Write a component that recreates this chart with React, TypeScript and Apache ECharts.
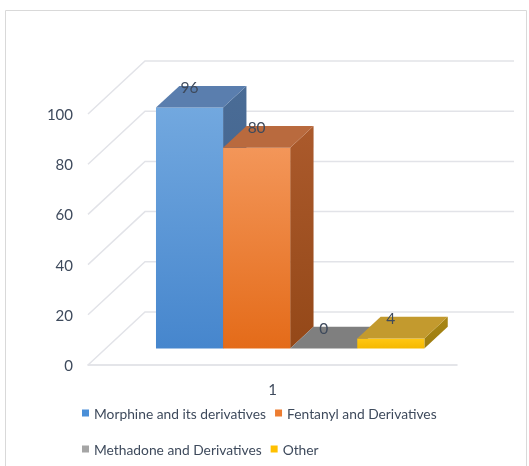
import React, { useEffect, useRef } from "react";
import * as echarts from "echarts";

// Chart data
const categories = ["1"];
const seriesNames = [
  "Morphine and its derivatives",
  "Fentanyl and Derivatives",
  "Methadone and Derivatives",
  "Other",
];
const morphineValues = [96];
const fentanylValues = [80];
const methadoneValues = [0];
const otherValues = [4];
const yTicks = [0, 20, 40, 60, 80, 100];

const FONT = "Lato, 'Liberation Sans', sans-serif";
const TEXT = "#3e4a5c";

// Oblique projection used for the 3-D look: full depth of the floor/walls
const DEPTH_X = 57;
const DEPTH_Y = -53;
// Bars sit between these fractions of the depth
const BAR_FRONT = 0.31;
const BAR_BACK = 0.72;
// Gap between clusters, in bar widths (Excel gap width 150%)
const GAP_WIDTH = 1.5;

type Palette = {
  legend: string;
  front: [string, string];
  top: string;
  side: [string, string];
};

const palettes: Palette[] = [
  { legend: "#4a8fd8", front: ["#72a8df", "#4686cd"], top: "#5a7eae", side: ["#4a6c96", "#3f5f88"] },
  { legend: "#ed7d31", front: ["#f39659", "#e46b19"], top: "#b96a3e", side: ["#ab5a2c", "#944818"] },
  { legend: "#a5a5a5", front: ["#a5a5a5", "#8f8f8f"], top: "#7f7f7f", side: ["#6f6f6f", "#6a6a6a"] },
  { legend: "#ffc000", front: ["#ffc714", "#f5b800"], top: "#c39a2e", side: ["#a88614", "#9c7c10"] },
];

const vGrad = (c: [string, string]) =>
  new echarts.graphic.LinearGradient(0, 0, 0, 1, [
    { offset: 0, color: c[0] },
    { offset: 1, color: c[1] },
  ]);

function makeBarRenderer(idx: number, count: number) {
  return (params: any, api: any) => {
    const cat = api.value(0);
    const value = api.value(1);
    const [cx, y0] = api.coord([cat, 0]);
    const yv = api.coord([cat, value])[1];
    const band = api.size([1, 0])[0];
    const w = band / (count + GAP_WIDTH);
    const left = cx - (count / 2) * w + idx * w;

    const fdx = DEPTH_X * BAR_FRONT;
    const fdy = DEPTH_Y * BAR_FRONT;
    const ddx = DEPTH_X * (BAR_BACK - BAR_FRONT);
    const ddy = DEPTH_Y * (BAR_BACK - BAR_FRONT);

    const x0 = left + fdx;
    const x1 = left + w + fdx;
    const yb = y0 + fdy;
    const yt = yv + fdy;
    const p = palettes[idx];
    const children: any[] = [];

    if (yb - yt > 0.5) {
      children.push({
        type: "polygon",
        shape: {
          points: [
            [x1, yt],
            [x1 + ddx, yt + ddy],
            [x1 + ddx, yb + ddy],
            [x1, yb],
          ],
        },
        style: { fill: vGrad(p.side) },
      });
      children.push({
        type: "rect",
        shape: { x: x0, y: yt, width: w, height: yb - yt },
        style: { fill: vGrad(p.front) },
      });
    }
    children.push({
      type: "polygon",
      shape: {
        points: [
          [x0, yt],
          [x1, yt],
          [x1 + ddx, yt + ddy],
          [x0 + ddx, yt + ddy],
        ],
      },
      style: { fill: p.top },
    });
    children.push({
      type: "text",
      style: {
        text: String(value),
        x: (x0 + x1) / 2,
        y: yt + ddy + 1,
        align: "center",
        verticalAlign: "middle",
        fill: TEXT,
        fontSize: 15.5,
        fontFamily: FONT,
      },
    });
    return { type: "group", children };
  };
}

function wallRenderer(params: any, api: any) {
  const cs = params.coordSys;
  const y = api.coord([0, api.value(1)])[1];
  return {
    type: "polyline",
    shape: {
      points: [
        [cs.x, y],
        [cs.x + DEPTH_X, y + DEPTH_Y],
        [cs.x + cs.width + DEPTH_X, y + DEPTH_Y],
      ],
    },
    style: { stroke: "#e2e3e8", lineWidth: 1.5, fill: null },
  };
}

export default function App() {
  const ref = useRef<HTMLDivElement>(null);

  useEffect(() => {
    if (!ref.current) return;
    const chart = echarts.init(ref.current, undefined, { renderer: "svg" });
    const values = [morphineValues, fentanylValues, methadoneValues, otherValues];

    const barSeries = seriesNames.map((name, i) => ({
      type: "custom",
      name,
      clip: false,
      silent: true,
      itemStyle: { color: palettes[i].legend },
      encode: { x: 0, y: 1 },
      data: values[i].map((v, c) => [c, v]),
      renderItem: makeBarRenderer(i, seriesNames.length),
      z: 3,
    }));

    const legendCommon = {
      left: 82,
      padding: 0,
      itemWidth: 7,
      itemHeight: 7,
      itemGap: 9,
      icon: "rect",
      selectedMode: false,
      textStyle: { color: TEXT, fontSize: 13.8, fontFamily: FONT },
    };

    chart.setOption({
      animation: false,
      grid: { left: 88, right: 72, top: 114, bottom: 101 },
      xAxis: {
        type: "category",
        data: categories,
        axisTick: { show: false },
        axisLine: { show: true, lineStyle: { color: "#dcdde2", width: 1.5 } },
        axisLabel: { color: TEXT, fontSize: 15, fontFamily: FONT, margin: 16 },
      },
      yAxis: {
        type: "value",
        min: 0,
        max: 100,
        interval: 20,
        axisLine: { show: false },
        axisTick: { show: false },
        splitLine: { show: false },
        axisLabel: { color: TEXT, fontSize: 15, fontFamily: FONT, margin: 15 },
      },
      legend: [
        { ...legendCommon, top: 406, data: [seriesNames[0], seriesNames[1]] },
        { ...legendCommon, top: 442, data: [seriesNames[2], seriesNames[3]] },
      ],
      graphic: [
        {
          type: "rect",
          silent: true,
          shape: { x: 5.5, y: 10.5, width: 521, height: 480 },
          style: { fill: "none", stroke: "#d9d9d9", lineWidth: 1 },
        },
      ],
      series: [
        {
          type: "custom",
          name: "wall",
          clip: false,
          silent: true,
          encode: { x: 0, y: 1 },
          data: yTicks.map((v) => [0, v]),
          renderItem: wallRenderer,
          z: 1,
        },
        ...barSeries,
      ],
    });

    return () => chart.dispose();
  }, []);

  return (
    <div
      ref={ref}
      style={{ position: "fixed", left: 0, top: 0, width: 529, height: 466 }}
    />
  );
}
